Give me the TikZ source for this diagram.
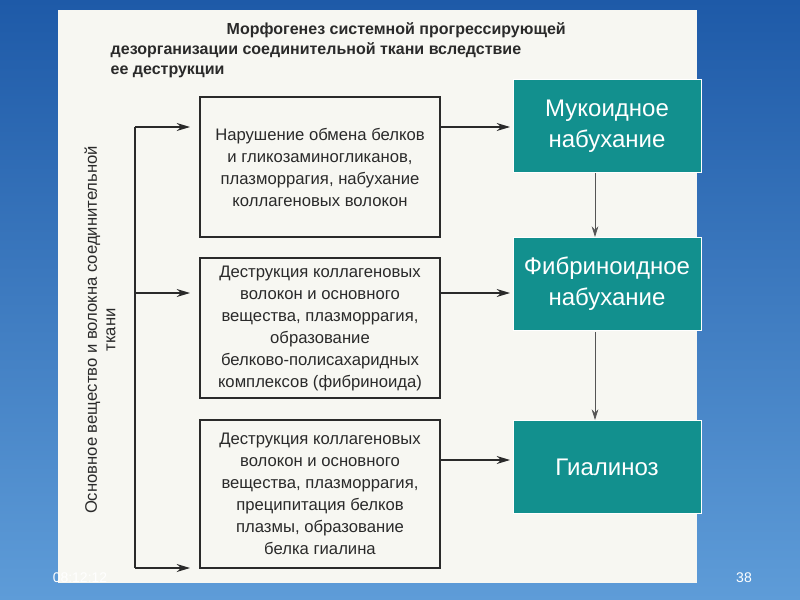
\documentclass[tikz,border=0pt]{standalone}
\usepackage{fontspec}
\setmainfont{Liberation Sans}
\usetikzlibrary{arrows.meta}
\definecolor{bgA}{HTML}{1E5AA8}
\definecolor{bgB}{HTML}{5E9CD8}
\definecolor{teal1}{HTML}{12908E}
\definecolor{paper}{HTML}{F7F7F2}
\definecolor{ink}{HTML}{2A2A2A}
\tikzset{
 wbox/.style={draw=ink, line width=0.9pt, minimum width=180pt, align=center, font=\fontsize{12.5}{16.5}\selectfont, text=ink, inner sep=2pt},
 tbox/.style={fill=teal1, draw=white, line width=0.6pt, minimum width=141pt, minimum height=70pt, align=center, text=white, font=\fontsize{18}{23}\selectfont},
 arr/.style={draw=ink, line width=0.8pt, -{Stealth[length=10pt,width=6pt]}},
 tarr/.style={draw=ink!80, line width=0.6pt, -{Stealth[length=8pt,width=5pt]}},
}
\begin{document}
\begin{tikzpicture}[x=0.75pt,y=-0.75pt]
\useasboundingbox (0,0) rectangle (800,600);
\shade[top color=bgA, bottom color=bgB] (0,0) rectangle (800,600);
\fill[paper] (58,10) rectangle (697,583);
\node[font=\bfseries\fontsize{12}{15}\selectfont, text=ink, align=left, anchor=north west] (title) at (106,18)
 {\hspace*{87pt}Морфогенез системной прогрессирующей\\дезорганизации соединительной ткани вследствие\\ее деструкции};
\node[rotate=90, font=\fontsize{12.5}{14}\selectfont, text=ink, align=center] (side) at (100,330)
 {Основное вещество и волокна соединительной\\ткани};
\node[wbox, minimum height=105pt] (b1) at (320,167) {Нарушение обмена белков\\и гликозаминогликанов,\\плазморрагия, набухание\\коллагеновых волокон};
\node[wbox, minimum height=105pt] (b2) at (320,328) {Деструкция коллагеновых\\волокон и основного\\вещества, плазморрагия,\\образование\\белково-полисахаридных\\комплексов (фибриноида)};
\node[wbox, minimum height=111pt] (b3) at (320,494) {Деструкция коллагеновых\\волокон и основного\\вещества, плазморрагия,\\преципитация белков\\плазмы, образование\\белка гиалина};
\coordinate (v1) at (135,127);
\coordinate (v2) at (135,293);
\coordinate (v3) at (135,568);
\draw[line width=0.9pt, draw=ink] (v1) -- (v3);
\draw[arr] (v1) -- (190,127);
\draw[arr] (v2) -- (190,293);
\draw[arr] (v3) -- (190,568);
\node[tbox] (t1) at (607,126) {Мукоидное\\набухание};
\node[tbox] (t2) at (607,284) {Фибриноидное\\набухание};
\node[tbox] (t3) at (607,467) {Гиалиноз};
\draw[arr] (440,127) -- (510,127);
\draw[arr] (440,293) -- (510,293);
\draw[arr] (440,460) -- (510,460);
\draw[tarr] (595,173) -- (595,237);
\draw[tarr] (595,332) -- (595,420);
\node[text=white, font=\fontsize{10.5}{12}\selectfont] (time) at (80,578) {08:12:12};
\node[text=white, font=\fontsize{10.5}{12}\selectfont] (num) at (744,578) {38};
\end{tikzpicture}
\end{document}
